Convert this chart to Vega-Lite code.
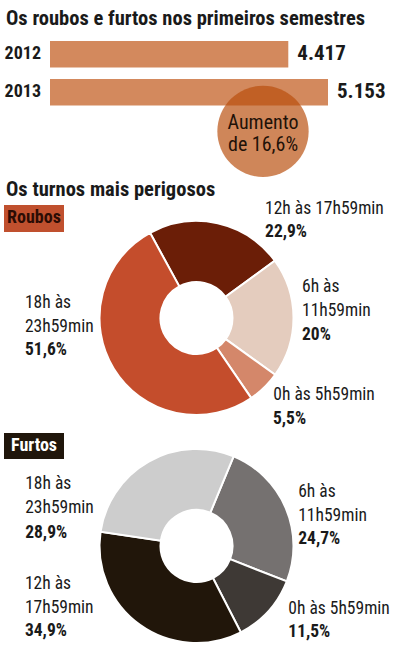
{
  "$schema": "https://vega.github.io/schema/vega-lite/v6.json",
  "background": "white",
  "padding": {"left": 4, "top": 8, "right": 0, "bottom": 0},
  "bounds": "flush",
  "spacing": 0,
  "config": {
    "locale": {"number": {"decimal": ",", "thousands": ".", "grouping": [3], "currency": ["R$", ""]}},
    "view": {"stroke": null},
    "font": "Roboto Condensed, Liberation Sans",
    "title": {"font": "Roboto Condensed, Liberation Sans", "fontSize": 20.5, "fontWeight": "bold", "color": "#1a1a1a", "anchor": "start", "baseline": "alphabetic"},
    "text": {"font": "Roboto Condensed, Liberation Sans", "color": "#1a1a1a"}
  },
  "resolve": {"scale": {"x": "independent", "y": "independent", "color": "independent", "theta": "independent"}},
  "datasets": {
    "turnos": [
      {"tipo": "Roubos", "turno": "12h às 17h59min", "pct": 0.229, "ordem": 1},
      {"tipo": "Roubos", "turno": "6h às\n11h59min", "pct": 0.2, "ordem": 2},
      {"tipo": "Roubos", "turno": "0h às 5h59min", "pct": 0.055, "ordem": 3},
      {"tipo": "Roubos", "turno": "18h às\n23h59min", "pct": 0.516, "ordem": 4},
      {"tipo": "Furtos", "turno": "6h às\n11h59min", "pct": 0.247, "ordem": 1},
      {"tipo": "Furtos", "turno": "0h às 5h59min", "pct": 0.115, "ordem": 2},
      {"tipo": "Furtos", "turno": "12h às\n17h59min", "pct": 0.349, "ordem": 3},
      {"tipo": "Furtos", "turno": "18h às\n23h59min", "pct": 0.289, "ordem": 4}
    ]
  },
  "vconcat": [
    {
      "width": 385,
      "height": 168,
      "title": {"text": "Os roubos e furtos nos primeiros semestres", "dx": 2, "offset": 4},
      "data": {"values": [{"ano": "2012", "casos": 4417}, {"ano": "2013", "casos": 5153}]},
      "encoding": {
        "y": {"field": "ano", "type": "nominal", "axis": null, "scale": {"domain": ["2012", "2013"], "range": [8, 72.6], "paddingInner": 0.3, "paddingOuter": 0}}
      },
      "layer": [
        {
          "mark": {"type": "bar", "color": "#d3895d"},
          "encoding": {"x": {"field": "casos", "type": "quantitative", "axis": null, "scale": {"domain": [0, 5153], "range": [46, 324], "nice": false}}}
        },
        {
          "mark": {"type": "text", "align": "left", "baseline": "middle", "dx": 9, "fontSize": 21, "fontWeight": "bold"},
          "encoding": {"x": {"field": "casos", "type": "quantitative"}, "text": {"field": "casos", "type": "quantitative", "format": ","}}
        },
        {
          "mark": {"type": "text", "align": "right", "baseline": "middle", "dx": -9, "fontSize": 18, "fontWeight": "bold"},
          "encoding": {"x": {"datum": 0, "type": "quantitative"}, "text": {"field": "ano"}}
        },
        {
          "data": {"values": [{"nota": ["Aumento", "de 16,6%"]}]},
          "mark": {"type": "point", "filled": true, "size": 8332, "color": "#b84c0a", "opacity": 0.68, "strokeWidth": 0, "xOffset": -65, "yOffset": 39},
          "encoding": {"x": {"datum": 5153, "type": "quantitative"}, "y": {"datum": "2013"}}
        },
        {
          "data": {"values": [{"nota": ["Aumento", "de 16,6%"]}]},
          "mark": {"type": "text", "align": "center", "baseline": "alphabetic", "fontSize": 20, "lineHeight": 22, "dx": -65, "dy": 37, "color": "#1f1208"},
          "encoding": {"x": {"datum": 5153, "type": "quantitative"}, "y": {"datum": "2013"}, "text": {"field": "nota"}}
        }
      ]
    },
    {
      "width": 60,
      "height": 31,
      "title": {"text": "Os turnos mais perigosos", "dx": 2, "offset": 1},
      "data": {"values": [{"tipo": "Roubos"}]},
      "encoding": {"y": {"field": "tipo", "type": "nominal", "axis": null, "scale": {"paddingInner": 0, "paddingOuter": 0.074, "align": 1}}},
      "layer": [
        {"mark": {"type": "rect", "color": "#c0502e"}},
        {"mark": {"type": "text", "fontSize": 18, "fontWeight": "bold", "color": "#2b0c04", "baseline": "middle"}, "encoding": {"text": {"field": "tipo"}}}
      ]
    },
    {
      "width": 385,
      "height": 172,
      "data": {"name": "turnos"},
      "transform": [{"filter": "datum.tipo == 'Roubos'"}],
      "encoding": {
        "theta": {"field": "pct", "type": "quantitative", "stack": true, "scale": {"range": [-0.4992, 5.784]}},
        "order": {"field": "ordem", "type": "quantitative"}
      },
      "layer": [
        {
          "mark": {"type": "arc", "outerRadius": 97, "innerRadius": 36, "stroke": "white", "strokeWidth": 2},
          "encoding": {"color": {"field": "ordem", "type": "nominal", "legend": null, "scale": {"domain": [1, 2, 3, 4], "range": ["#6b1e07", "#e4ccbe", "#d4876a", "#c44d2c"]}}}
        },
        {"mark": {"type": "text", "radius": 105, "align": "left", "baseline": "alphabetic", "fontSize": 17.5, "lineHeight": 24, "lineBreak": "\n", "dx": 45.6, "dy": -1.2}, "encoding": {"text": {"field": "turno", "condition": {"test": "datum.ordem != 1", "value": ""}}}},
        {"mark": {"type": "text", "radius": 105, "align": "left", "baseline": "alphabetic", "fontSize": 17.5, "fontWeight": "bold", "dx": 45.6, "dy": 21.5}, "encoding": {"text": {"field": "pct", "type": "quantitative", "format": ".1~%", "condition": {"test": "datum.ordem != 1", "value": ""}}}},
        {"mark": {"type": "text", "radius": 105, "align": "left", "baseline": "alphabetic", "fontSize": 17.5, "lineHeight": 24, "lineBreak": "\n", "dx": 0.5, "dy": -25.6}, "encoding": {"text": {"field": "turno", "condition": {"test": "datum.ordem != 2", "value": ""}}}},
        {"mark": {"type": "text", "radius": 105, "align": "left", "baseline": "alphabetic", "fontSize": 17.5, "fontWeight": "bold", "dx": 0.5, "dy": 22.4}, "encoding": {"text": {"field": "pct", "type": "quantitative", "format": ".1~%", "condition": {"test": "datum.ordem != 2", "value": ""}}}},
        {"mark": {"type": "text", "radius": 105, "align": "left", "baseline": "alphabetic", "fontSize": 17.5, "lineHeight": 24, "lineBreak": "\n", "dx": 3.5, "dy": 7.1}, "encoding": {"text": {"field": "turno", "condition": {"test": "datum.ordem != 3", "value": ""}}}},
        {"mark": {"type": "text", "radius": 105, "align": "left", "baseline": "alphabetic", "fontSize": 17.5, "fontWeight": "bold", "dx": 3.2, "dy": 31.1}, "encoding": {"text": {"field": "pct", "type": "quantitative", "format": ".1~%", "condition": {"test": "datum.ordem != 3", "value": ""}}}},
        {"mark": {"type": "text", "radius": 105, "align": "left", "baseline": "alphabetic", "fontSize": 17.5, "lineHeight": 24, "lineBreak": "\n", "dx": -82, "dy": -64.5}, "encoding": {"text": {"field": "turno", "condition": {"test": "datum.ordem != 4", "value": ""}}}},
        {"mark": {"type": "text", "radius": 105, "align": "left", "baseline": "alphabetic", "fontSize": 17.5, "fontWeight": "bold", "dx": -82, "dy": -17.8}, "encoding": {"text": {"field": "pct", "type": "quantitative", "format": ".1~%", "condition": {"test": "datum.ordem != 4", "value": ""}}}}
      ]
    },
    {
      "width": 60,
      "height": 55,
      "data": {"values": [{"tipo": "Furtos"}]},
      "encoding": {"y": {"field": "tipo", "type": "nominal", "axis": null, "scale": {"paddingInner": 0, "paddingOuter": 0.558, "align": 1}}},
      "layer": [
        {"mark": {"type": "rect", "color": "#20160b"}},
        {"mark": {"type": "text", "fontSize": 18, "fontWeight": "bold", "color": "white", "baseline": "middle"}, "encoding": {"text": {"field": "tipo"}}}
      ]
    },
    {
      "width": 385,
      "height": 174,
      "data": {"name": "turnos"},
      "transform": [{"filter": "datum.tipo == 'Furtos'"}],
      "encoding": {
        "theta": {"field": "pct", "type": "quantitative", "stack": true, "scale": {"range": [0.3927, 6.6759]}},
        "order": {"field": "ordem", "type": "quantitative"}
      },
      "layer": [
        {
          "mark": {"type": "arc", "outerRadius": 97, "innerRadius": 36, "stroke": "white", "strokeWidth": 2},
          "encoding": {"color": {"field": "ordem", "type": "nominal", "legend": null, "scale": {"domain": [1, 2, 3, 4], "range": ["#757170", "#3e3935", "#21160a", "#cdcdcd"]}}}
        },
        {"mark": {"type": "text", "radius": 105, "align": "left", "baseline": "alphabetic", "fontSize": 17.5, "lineHeight": 24, "lineBreak": "\n", "dx": 5.1, "dy": -8}, "encoding": {"text": {"field": "turno", "condition": {"test": "datum.ordem != 1", "value": ""}}}},
        {"mark": {"type": "text", "radius": 105, "align": "left", "baseline": "alphabetic", "fontSize": 17.5, "fontWeight": "bold", "dx": 5.1, "dy": 39.3}, "encoding": {"text": {"field": "pct", "type": "quantitative", "format": ".1~%", "condition": {"test": "datum.ordem != 1", "value": ""}}}},
        {"mark": {"type": "text", "radius": 105, "align": "left", "baseline": "alphabetic", "fontSize": 17.5, "lineHeight": 24, "lineBreak": "\n", "dx": 13.9, "dy": -2.7}, "encoding": {"text": {"field": "turno", "condition": {"test": "datum.ordem != 2", "value": ""}}}},
        {"mark": {"type": "text", "radius": 105, "align": "left", "baseline": "alphabetic", "fontSize": 17.5, "fontWeight": "bold", "dx": 13.9, "dy": 20.3}, "encoding": {"text": {"field": "pct", "type": "quantitative", "format": ".1~%", "condition": {"test": "datum.ordem != 2", "value": ""}}}},
        {"mark": {"type": "text", "radius": 105, "align": "left", "baseline": "alphabetic", "fontSize": 17.5, "lineHeight": 24, "lineBreak": "\n", "dx": -110.4, "dy": -42.7}, "encoding": {"text": {"field": "turno", "condition": {"test": "datum.ordem != 3", "value": ""}}}},
        {"mark": {"type": "text", "radius": 105, "align": "left", "baseline": "alphabetic", "fontSize": 17.5, "fontWeight": "bold", "dx": -110.4, "dy": 4.6}, "encoding": {"text": {"field": "pct", "type": "quantitative", "format": ".1~%", "condition": {"test": "datum.ordem != 3", "value": ""}}}},
        {"mark": {"type": "text", "radius": 105, "align": "left", "baseline": "alphabetic", "fontSize": 17.5, "lineHeight": 24, "lineBreak": "\n", "dx": -119.6, "dy": 34.6}, "encoding": {"text": {"field": "turno", "condition": {"test": "datum.ordem != 4", "value": ""}}}},
        {"mark": {"type": "text", "radius": 105, "align": "left", "baseline": "alphabetic", "fontSize": 17.5, "fontWeight": "bold", "dx": -119.6, "dy": 83}, "encoding": {"text": {"field": "pct", "type": "quantitative", "format": ".1~%", "condition": {"test": "datum.ordem != 4", "value": ""}}}}
      ]
    }
  ]
}
